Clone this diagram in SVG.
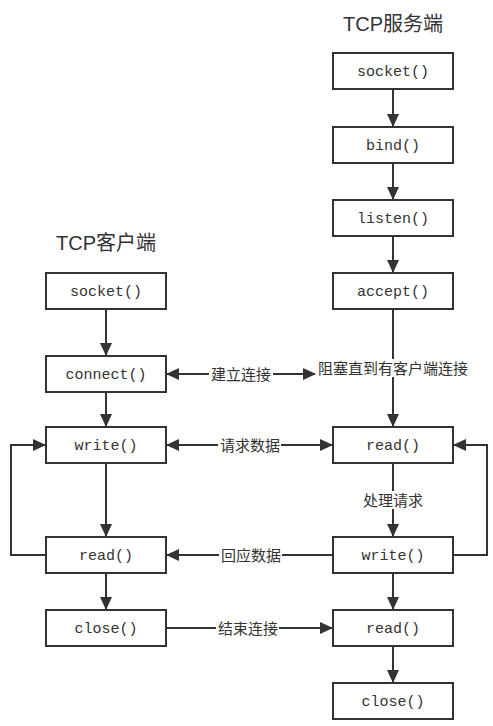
<svg xmlns="http://www.w3.org/2000/svg" width="493" height="726" viewBox="0 0 493 726">
<style>
.box{fill:#fff;stroke:#333;stroke-width:2}
.bt{font-family:"Liberation Mono","DejaVu Sans Mono",monospace;font-size:15px;fill:#333;text-anchor:middle}
.title{font-family:"Liberation Sans","Noto Sans CJK SC",sans-serif;font-size:20px;fill:#333;text-anchor:middle}
.ln{fill:none;stroke:#333;stroke-width:2}
.lb{font-family:"Noto Sans CJK SC",sans-serif;font-size:15px;fill:#333;text-anchor:middle}
.bg{fill:#fff}
</style>
<defs>
<marker id="ah" markerUnits="userSpaceOnUse" markerWidth="13" markerHeight="12" refX="12" refY="6" orient="auto-start-reverse">
<path d="M0,0 L13,6 L0,12 Z" fill="#333"/>
</marker>
</defs>
<rect width="493" height="726" fill="#fff"/>
<text class="title" x="393" y="31">TCP服务端</text>
<text class="title" x="106" y="250">TCP客户端</text>
<g id="connectors">
<line class="ln" x1="106" y1="309" x2="106" y2="355" marker-end="url(#ah)"/>
<line class="ln" x1="106" y1="392" x2="106" y2="426" marker-end="url(#ah)"/>
<line class="ln" x1="106" y1="463" x2="106" y2="536" marker-end="url(#ah)"/>
<line class="ln" x1="106" y1="573" x2="106" y2="609" marker-end="url(#ah)"/>
<polyline class="ln" points="46,555 11,555 11,445 45,445" marker-end="url(#ah)"/>
<line class="ln" x1="393" y1="89" x2="393" y2="126" marker-end="url(#ah)"/>
<line class="ln" x1="393" y1="163" x2="393" y2="199" marker-end="url(#ah)"/>
<line class="ln" x1="393" y1="236" x2="393" y2="272" marker-end="url(#ah)"/>
<line class="ln" x1="393" y1="309" x2="393" y2="426" marker-end="url(#ah)"/>
<line class="ln" x1="393" y1="463" x2="393" y2="536" marker-end="url(#ah)"/>
<line class="ln" x1="393" y1="573" x2="393" y2="609" marker-end="url(#ah)"/>
<line class="ln" x1="393" y1="646" x2="393" y2="682" marker-end="url(#ah)"/>
<polyline class="ln" points="453,555 487,555 487,445 454,445" marker-end="url(#ah)"/>
<line class="ln" x1="167" y1="374" x2="315" y2="374" marker-start="url(#ah)" marker-end="url(#ah)"/>
<line class="ln" x1="167" y1="445" x2="332" y2="445" marker-start="url(#ah)" marker-end="url(#ah)"/>
<line class="ln" x1="333" y1="555" x2="167" y2="555" marker-end="url(#ah)"/>
<line class="ln" x1="166" y1="628" x2="332" y2="628" marker-end="url(#ah)"/>
<rect class="bg" x="209" y="365" width="64" height="18"/>
<text class="lb" x="241" y="380">建立连接</text>
<rect class="bg" x="316" y="359" width="155" height="18"/>
<text class="lb" x="393" y="374">阻塞直到有客户端连接</text>
<rect class="bg" x="218" y="436" width="63" height="18"/>
<text class="lb" x="250" y="451">请求数据</text>
<rect class="bg" x="219" y="546" width="63" height="18"/>
<text class="lb" x="251" y="561">回应数据</text>
<rect class="bg" x="216" y="619" width="63" height="18"/>
<text class="lb" x="248" y="634">结束连接</text>
<rect class="bg" x="360" y="491" width="66" height="18"/>
<text class="lb" x="393" y="506">处理请求</text>
</g>
<g id="s_socket"><rect class="box" x="333" y="53" width="120" height="36"/><text class="bt" x="393" y="76">socket()</text></g>
<g id="s_bind"><rect class="box" x="333" y="127" width="120" height="36"/><text class="bt" x="393" y="150">bind()</text></g>
<g id="s_listen"><rect class="box" x="333" y="200" width="120" height="36"/><text class="bt" x="393" y="223">listen()</text></g>
<g id="s_accept"><rect class="box" x="333" y="273" width="120" height="36"/><text class="bt" x="393" y="296">accept()</text></g>
<g id="s_read"><rect class="box" x="333" y="427" width="120" height="36"/><text class="bt" x="393" y="450">read()</text></g>
<g id="s_write"><rect class="box" x="333" y="537" width="120" height="36"/><text class="bt" x="393" y="560">write()</text></g>
<g id="s_read2"><rect class="box" x="333" y="610" width="120" height="36"/><text class="bt" x="393" y="633">read()</text></g>
<g id="s_close"><rect class="box" x="333" y="683" width="120" height="36"/><text class="bt" x="393" y="706">close()</text></g>
<g id="c_socket"><rect class="box" x="46" y="273" width="120" height="36"/><text class="bt" x="106" y="296">socket()</text></g>
<g id="c_connect"><rect class="box" x="46" y="356" width="120" height="36"/><text class="bt" x="106" y="379">connect()</text></g>
<g id="c_write"><rect class="box" x="46" y="427" width="120" height="36"/><text class="bt" x="106" y="450">write()</text></g>
<g id="c_read"><rect class="box" x="46" y="537" width="120" height="36"/><text class="bt" x="106" y="560">read()</text></g>
<g id="c_close"><rect class="box" x="46" y="610" width="120" height="36"/><text class="bt" x="106" y="633">close()</text></g>
</svg>
